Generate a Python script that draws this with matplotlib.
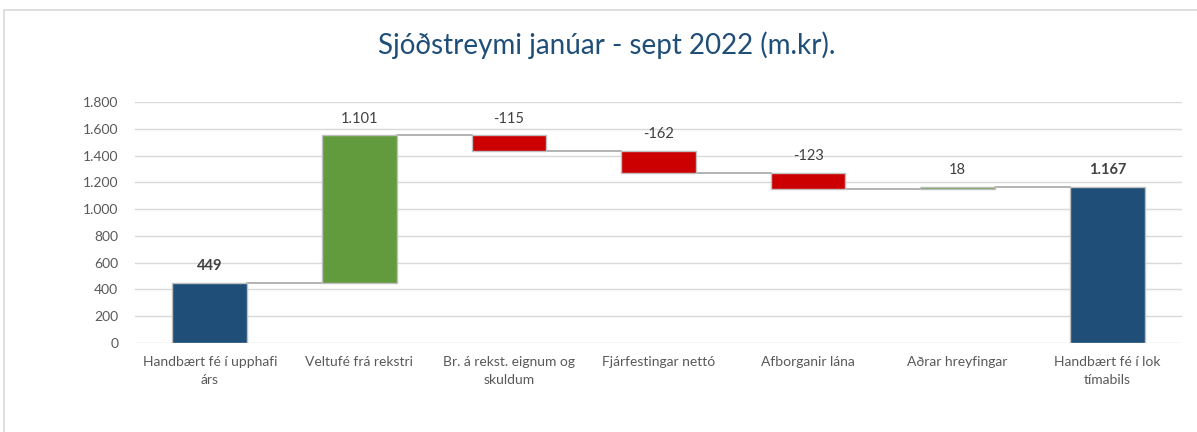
import matplotlib
matplotlib.use('Agg')
import matplotlib.pyplot as plt
from matplotlib.patches import Rectangle

# Data (m.kr.)
categories = ['Handbært fé í upphafi\nárs', 'Veltufé frá rekstri', 'Br. á rekst. eignum og\nskuldum',
              'Fjárfestingar nettó', 'Afborganir lána', 'Aðrar hreyfingar', 'Handbært fé í lok\ntímabils']
values = [449, 1101, -115, -162, -123, 18, 1167]
kinds = ['total', 'delta', 'delta', 'delta', 'delta', 'delta', 'total']
y_ticks = [0, 200, 400, 600, 800, 1000, 1200, 1400, 1600, 1800]

BLUE = '#1F4E79'
GREEN = '#629B3D'
RED = '#CC0000'
TEXT = '#595959'

plt.rcParams['font.family'] = ['Lato', 'DejaVu Sans']

fig = plt.figure(figsize=(11.97, 4.32), dpi=100)
ax = fig.add_axes([0.1128, 0.206, 0.8747, 0.558])

# Compute bar bottoms and tops
bottoms, heights, colors = [], [], []
running = 0
for v, k in zip(values, kinds):
    if k == 'total':
        bottoms.append(0)
        heights.append(v)
        colors.append(BLUE)
        running = v
    else:
        if v >= 0:
            bottoms.append(running)
            colors.append(GREEN)
        else:
            bottoms.append(running + v)
            colors.append(RED)
        heights.append(abs(v))
        running += v

x = list(range(len(categories)))
width = 0.5
ax.bar(x, heights, bottom=bottoms, width=width, color=colors,
       edgecolor='#BFBFBF', linewidth=1.0, zorder=3)

# Connector lines
levels = []
running = 0
for v, k in zip(values, kinds):
    running = v if k == 'total' else running + v
    levels.append(running)
for i in range(len(x) - 1):
    ax.plot([x[i] + width / 2, x[i + 1] - width / 2], [levels[i], levels[i]],
            color='#A6A6A6', linewidth=1.2, zorder=2)

# Data labels
def fmt(v):
    return f'{v:,}'.replace(',', '.')

for i, (v, k) in enumerate(zip(values, kinds)):
    top = bottoms[i] + heights[i]
    ax.annotate(fmt(v), (x[i], top), xytext=(0, 7), textcoords='offset points',
                ha='center', va='bottom', fontsize=10.5, color='#404040',
                fontweight='bold' if k == 'total' else 'normal')

ax.set_ylim(0, 1800)
ax.set_xlim(-0.5, len(x) - 0.5)
ax.set_yticks(y_ticks)
ax.set_yticklabels([fmt(t) for t in y_ticks])
ax.set_xticks(x)
ax.set_xticklabels(categories, fontsize=10, color=TEXT, linespacing=1.65)
ax.tick_params(axis='y', labelsize=10, labelcolor=TEXT, length=0, pad=12)
ax.tick_params(axis='x', length=0, pad=9)
ax.grid(axis='y', color='#D9D9D9', linewidth=1.0, zorder=0)
ax.set_axisbelow(True)
for s in ax.spines.values():
    s.set_visible(False)

fig.text(0.507, 0.895, 'Sjóðstreymi janúar - sept 2022 (m.kr).', ha='center', va='center',
         fontsize=20, color=BLUE)

# chart frame
fig.patches.append(Rectangle((4 / 1197, -0.1), 1.2, (422 / 432) + 0.1, transform=fig.transFigure,
                             fill=False, edgecolor='#D9D9D9', linewidth=1.2))

fig.savefig('out.png', dpi=100, facecolor='white')
